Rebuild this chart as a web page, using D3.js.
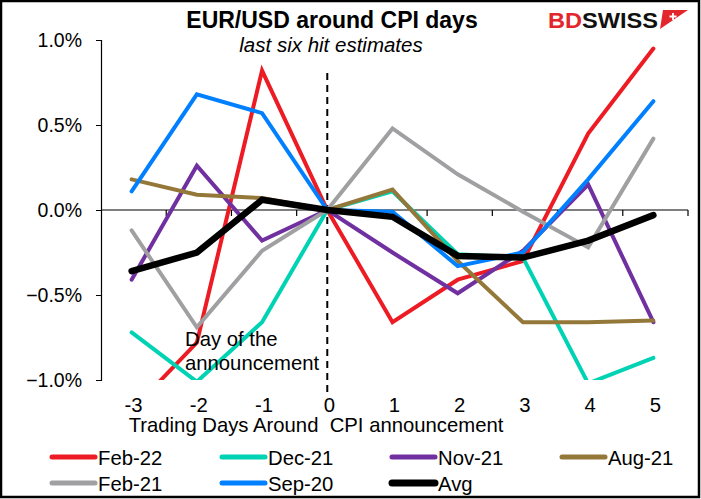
<!DOCTYPE html>
<html>
<head>
<meta charset="utf-8">
<script src="https://cdn.jsdelivr.net/npm/d3@7"></script>
<style>
  body { margin: 0; background: #fff; }
  svg { display: block; font-family: Arial, "Liberation Sans", sans-serif; }
</style>
</head>
<body>
<svg id="chart" width="701" height="499"></svg>
<script>
// days around the CPI release
const days = [-3, -2, -1, 0, 1, 2, 3, 4, 5];
const yTicks = [-1.0, -0.5, 0.0, 0.5, 1.0];

// % move in EUR/USD
const feb22 = [-1.18, -0.78, 0.82, 0, -0.66, -0.41, -0.30, 0.45, 0.95];
const dec21 = [-0.72, -1.01, -0.66, 0, 0.11, -0.26, -0.28, -1.02, -0.87];
const nov21 = [-0.41, 0.26, -0.18, 0, -0.25, -0.49, -0.24, 0.15, -0.66];
const aug21 = [0.18, 0.09, 0.07, 0, 0.12, -0.30, -0.66, -0.66, -0.65];
const feb21 = [-0.12, -0.69, -0.24, 0, 0.48, 0.21, -0.01, -0.22, 0.42];
const sep20 = [0.11, 0.68, 0.57, 0, -0.01, -0.33, -0.25, 0.18, 0.64];
const avg   = [-0.36, -0.25, 0.06, 0, -0.04, -0.27, -0.28, -0.18, -0.03];

const series = [
  { name: "Feb-22", values: feb22, color: "#ed1c24", width: 4 },
  { name: "Dec-21", values: dec21, color: "#00d2b4", width: 4 },
  { name: "Nov-21", values: nov21, color: "#7030a0", width: 4 },
  { name: "Aug-21", values: aug21, color: "#94783a", width: 4 },
  { name: "Feb-21", values: feb21, color: "#a0a0a2", width: 4 },
  { name: "Sep-20", values: sep20, color: "#0080ff", width: 4 },
  { name: "Avg",    values: avg,   color: "#000000", width: 6.5 }
];

const FS = 20.3; // body text size

const svg = d3.select("#chart");

// frame
svg.append("rect")
  .attr("x", 1).attr("y", 1).attr("width", 698).attr("height", 496)
  .attr("fill", "#fff").attr("stroke", "#000").attr("stroke-width", 2.5);

const plotLeft = 101, plotRight = 688, plotTop = 40, plotBottom = 380;

const x = d3.scaleBand().domain(days).range([plotLeft, plotRight]);
const y = d3.scaleLinear().domain([-1.0, 1.0]).range([plotBottom, plotTop]);
const xc = d => x(d) + x.bandwidth() / 2 - 2;

svg.append("defs").append("clipPath").attr("id", "plotclip")
  .append("rect").attr("x", plotLeft).attr("y", plotTop - 5)
  .attr("width", plotRight - plotLeft + 5).attr("height", plotBottom - plotTop + 5);

// y axis
const yAxis = svg.append("g")
  .attr("transform", `translate(${plotLeft},0)`)
  .call(d3.axisLeft(y).tickValues(yTicks).tickSize(5).tickPadding(14)
    .tickFormat(d => d3.format(".1f")(d) + "%"));
yAxis.select(".domain").attr("stroke", "#000").attr("stroke-width", 1.2);
yAxis.selectAll("text").attr("font-size", 19.5).attr("fill", "#000");

// x axis sits on zero, ticks between categories, labels at bottom
const xAxisG = svg.append("g").attr("transform", `translate(0,${y(0)})`);
xAxisG.append("line").attr("x1", plotLeft).attr("x2", plotRight)
  .attr("stroke", "#000").attr("stroke-width", 1.2);
xAxisG.selectAll("line.tk")
  .data(days.slice(1).concat(["end"]))
  .join("line").attr("class", "tk")
  .attr("x1", d => d === "end" ? plotRight : x(d))
  .attr("x2", d => d === "end" ? plotRight : x(d))
  .attr("y1", 0).attr("y2", 6)
  .attr("stroke", "#000").attr("stroke-width", 1.2);

svg.append("g").selectAll("text")
  .data(days).join("text")
  .attr("x", d => x(d) + x.bandwidth() / 2)
  .attr("y", 412)
  .attr("text-anchor", "middle")
  .attr("font-size", FS)
  .text(d => d);

svg.append("text")
  .attr("x", 316).attr("y", 432)
  .attr("text-anchor", "middle").attr("font-size", FS)
  .attr("xml:space", "preserve")
  .text("Trading Days Around  CPI announcement");

// dashed marker for the release day
svg.append("line")
  .attr("x1", xc(0)).attr("x2", xc(0))
  .attr("y1", 73).attr("y2", 394)
  .attr("stroke", "#000").attr("stroke-width", 2)
  .attr("stroke-dasharray", "7,5");

// lines
const line = d3.line().x((d, i) => xc(days[i])).y(d => y(d));
svg.append("g").attr("clip-path", "url(#plotclip)")
  .selectAll("path").data(series).join("path")
  .attr("d", s => line(s.values))
  .attr("fill", "none")
  .attr("stroke", s => s.color)
  .attr("stroke-width", s => s.width)
  .attr("stroke-linejoin", "miter")
  .attr("stroke-linecap", "round");

// annotation
const ann = svg.append("text").attr("font-size", FS).attr("fill", "#000");
ann.append("tspan").attr("x", 185).attr("y", 346).text("Day of the");
ann.append("tspan").attr("x", 185).attr("y", 370).text("announcement");

// titles
svg.append("text")
  .attr("x", 332).attr("y", 28)
  .attr("text-anchor", "middle").attr("font-size", 23).attr("font-weight", "bold")
  .text("EUR/USD around CPI days");
svg.append("text")
  .attr("x", 331).attr("y", 52)
  .attr("text-anchor", "middle").attr("font-size", 20.5).attr("font-style", "italic")
  .text("last six hit estimates");

// logo
const logo = svg.append("text").attr("x", 548).attr("y", 28)
  .attr("font-size", 22).attr("font-weight", "900")
  .attr("textLength", 110).attr("lengthAdjust", "spacingAndGlyphs");
logo.append("tspan").attr("fill", "#e3262c").text("BD");
logo.append("tspan").attr("fill", "#111").text("SWISS");
svg.append("path")
  .attr("d", "M663,10 L688,10 L660,29 Z")
  .attr("fill", "#e3262c");
svg.append("path")
  .attr("d", "M673,13 V20 M669.5,16.5 H676.5")
  .attr("stroke", "#fff").attr("stroke-width", 1.8);

// legend, 4 columns x 2 rows
const legCols = [52, 222, 392, 562];
const legRows = [457, 483];
const leg = svg.append("g").selectAll("g").data(series).join("g")
  .attr("transform", (s, i) => `translate(${legCols[i % 4]},${legRows[Math.floor(i / 4)]})`);
leg.append("line")
  .attr("x1", 0).attr("x2", 43)
  .attr("stroke", s => s.color)
  .attr("stroke-width", s => s.width === 4 ? 5 : 7)
  .attr("stroke-linecap", "round");
leg.append("text")
  .attr("x", 46).attr("y", 7.5)
  .attr("font-size", FS)
  .text(s => s.name);
</script>
</body>
</html>
